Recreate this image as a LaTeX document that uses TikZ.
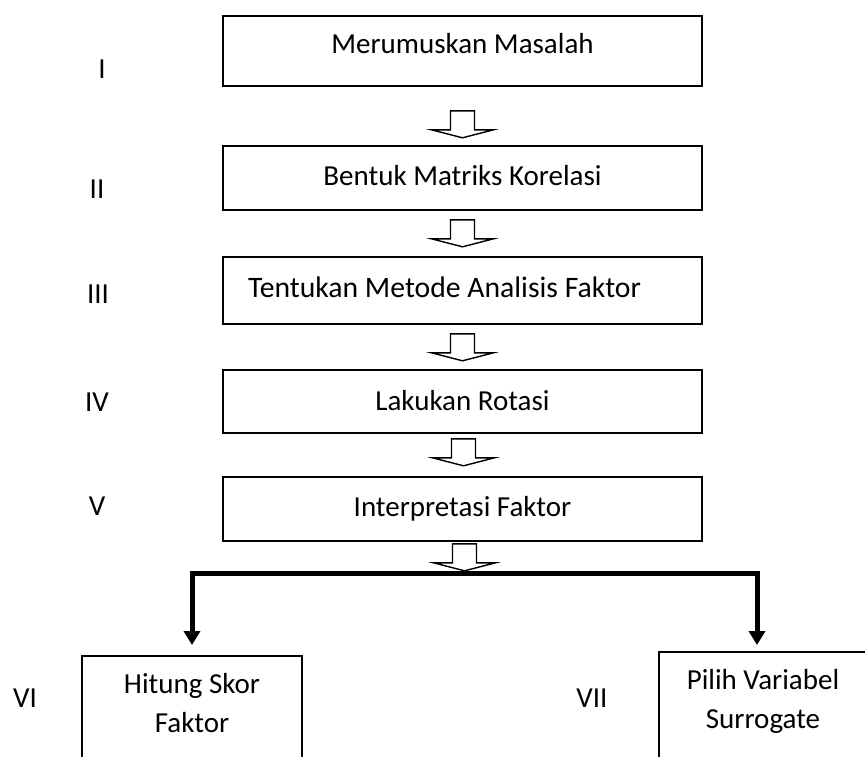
\documentclass[tikz,border=0pt]{standalone}
\usepackage{fontspec}
\setmainfont{Carlito}
\usetikzlibrary{arrows.meta,calc}
\begin{document}
\begin{tikzpicture}[x=1pt,y=-1pt,
  box/.style={draw,line width=1.6pt,inner sep=0pt,text height=20pt,text depth=6pt},
  lbl/.style={inner sep=0pt},
  txt/.style={inner sep=0pt,align=center},
  blk/.style={draw,line width=1.4pt,fill=white,line join=miter},
  barline/.style={line width=5pt,line join=miter},
  pics/blockarrow/.style={code={\draw[blk] (-12,0) -- (-12,19) -- (-31,19) -- (0,27) -- (31,19) -- (12,19) -- (12,0) -- cycle;}},
  font=\fontsize{29}{39}\selectfont]
\useasboundingbox (0,0) rectangle (865,756);
\clip (0,0) rectangle (865,756);
% main boxes
\node[box,minimum width=479pt,minimum height=70pt,text depth=15pt] (b1) at (462.5,51) {Merumuskan Masalah};
\node[box,minimum width=479pt,minimum height=64pt] (b2) at (462.5,178) {Bentuk Matriks Korelasi};
\node[box,minimum width=479pt,minimum height=67pt,text width=429pt,inner xsep=25pt,align=flush left,font=\fontsize{29.7}{39}\selectfont] (b3) at (462.5,290.5) {Tentukan Metode Analisis Faktor};
\node[box,minimum width=479pt,minimum height=63pt,text depth=3pt] (b4) at (462.5,401.5) {Lakukan Rotasi};
\node[box,minimum width=479pt,minimum height=64pt] (b5) at (462.5,509) {Interpretasi Faktor};
\node[box,anchor=north,minimum width=220pt,minimum height=130pt] (b6) at (192,655) {};
\node[box,anchor=north west,minimum width=210pt,minimum height=130pt] (b7) at (658,651) {};
\node[txt] (t6) at (192,703) {Hitung Skor\\Faktor};
\node[txt] (t7) at (763,701) {Pilih Variabel\\Surrogate};
% step labels
\node[lbl] (l1) at (102,69) {I};
\node[lbl] (l2) at (97,189) {II};
\node[lbl] (l3) at (98,294) {III};
\node[lbl] (l4) at (97,402) {IV};
\node[lbl] (l5) at (97,506) {V};
\node[lbl] (l6) at (25,698) {VI};
\node[lbl] (l7) at (592,698) {VII};
% block arrows
\pic at ($(b1.south)+(0,24)$) {blockarrow};
\pic at ($(b2.south)+(0,9)$) {blockarrow};
\pic at ($(b3.south)+(0,9)$) {blockarrow};
\pic at ($(b4.south)+(1,5)$) {blockarrow};
\pic at ($(b5.south)+(2,2)$) {blockarrow};
% split connector
\coordinate (cl) at (192,573.5);
\coordinate (cr) at (757,573.5);
\coordinate (lt) at ($(b6.north)+(0,-10)$);
\coordinate (rt) at ($(b7.north west)+(99,-6)$);
\draw[barline,{Triangle[width=16pt,length=14pt]}-{Triangle[width=16pt,length=14pt]}] (lt) -- (cl) -- (cr) -- (rt);
\end{tikzpicture}
\end{document}
